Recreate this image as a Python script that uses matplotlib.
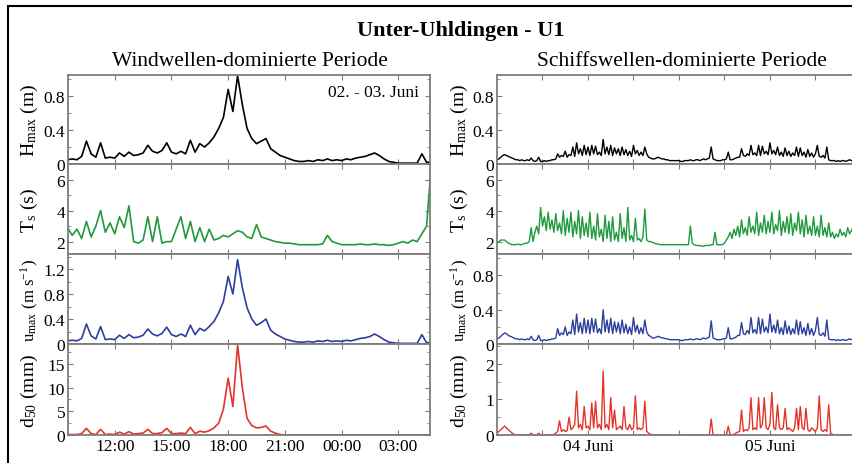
import matplotlib
matplotlib.use("Agg")
import numpy as np
import matplotlib.pyplot as plt
from matplotlib.patches import Rectangle
from matplotlib.ticker import MultipleLocator

plt.rcParams['font.family'] = ['Liberation Serif', 'DejaVu Serif']
plt.rcParams['mathtext.fontset'] = 'stix'

# --- left: wind-wave period, hours since 02 Juni 00:00, 15 min steps from 09:30
left_start = 9.5
left_H = [0.05, 0.06, 0.05, 0.09, 0.27, 0.12, 0.08, 0.25, 0.07, 0.08,
          0.07, 0.13, 0.09, 0.14, 0.10, 0.11, 0.13, 0.22, 0.15, 0.13,
          0.16, 0.25, 0.14, 0.12, 0.15, 0.12, 0.28, 0.14, 0.24, 0.20,
          0.25, 0.32, 0.42, 0.55, 0.88, 0.62, 1.04, 0.70, 0.42, 0.30,
          0.24, 0.27, 0.30, 0.18, 0.14, 0.10, 0.08, 0.06, 0.04, 0.03,
          0.03, 0.04, 0.03, 0.05, 0.04, 0.06, 0.04, 0.05, 0.04, 0.06,
          0.05, 0.07, 0.08, 0.09, 0.11, 0.13, 0.10, 0.06, 0.03, 0.02,
          0.01, 0.01, 0.01, 0.01, 0.01, 0.12, 0.02, 0.02]
left_T = [2.9, 2.4, 2.8, 2.2, 3.3, 2.3, 3.0, 4.0, 2.6, 3.2,
          2.5, 3.6, 2.9, 4.3, 2.0, 1.9, 2.1, 3.6, 2.0, 3.6,
          1.9, 2.0, 2.0, 2.8, 3.6, 2.2, 3.3, 2.0, 2.9, 2.0,
          2.8, 2.1, 2.2, 2.4, 2.3, 2.5, 2.7, 2.6, 2.3, 2.2,
          3.1, 2.3, 2.2, 2.1, 2.0, 1.95, 1.9, 1.9, 1.85, 1.8,
          1.8, 1.8, 1.8, 1.8, 1.85, 2.4, 2.0, 1.9, 1.8, 1.8,
          1.8, 1.8, 1.85, 1.8, 1.8, 1.85, 1.8, 1.8, 1.75, 1.8,
          1.9, 2.0, 1.9, 2.1, 2.0, 2.5, 3.0, 7.0]
left_u = [0.05, 0.06, 0.05, 0.09, 0.32, 0.13, 0.08, 0.28, 0.07, 0.08,
          0.07, 0.14, 0.09, 0.15, 0.10, 0.11, 0.14, 0.24, 0.16, 0.13,
          0.17, 0.27, 0.15, 0.12, 0.16, 0.12, 0.30, 0.15, 0.25, 0.21,
          0.28, 0.36, 0.50, 0.68, 1.08, 0.80, 1.35, 0.90, 0.58, 0.40,
          0.30, 0.34, 0.40, 0.22, 0.16, 0.12, 0.08, 0.06, 0.04, 0.03,
          0.03, 0.04, 0.03, 0.05, 0.04, 0.06, 0.04, 0.05, 0.04, 0.06,
          0.05, 0.07, 0.09, 0.10, 0.12, 0.16, 0.12, 0.07, 0.03, 0.02,
          0.01, 0.01, 0.01, 0.01, 0.01, 0.15, 0.02, 0.02]
left_d = [0.1, 0.1, 0.1, 0.3, 1.4, 0.3, 0.1, 1.2, 0.1, 0.2,
          0.1, 0.6, 0.2, 0.7, 0.2, 0.3, 0.4, 1.2, 0.3, 0.3,
          0.5, 1.4, 0.3, 0.3, 0.4, 0.3, 1.6, 0.3, 0.8, 0.6,
          0.9, 1.5, 2.5, 5.5, 12.0, 6.0, 19.0, 10.0, 3.5, 2.0,
          1.5, 1.6, 1.9, 0.8, 0.4, 0.1, 0.0, 0.0, 0.0, 0.0,
          0.0, 0.0, 0.0, 0.0, 0.0, 0.0, 0.0, 0.0, 0.0, 0.0,
          0.0, 0.0, 0.0, 0.0, 0.0, 0.0, 0.0, 0.0, 0.0, 0.0,
          0.0, 0.0, 0.0, 0.0, 0.0, 0.0, 0.0, 0.0]

# --- right: ship-wave period, hours since 03 Juni 00:00, 15 min steps from 12:00
right_start = 12.0
right_H = [0.05, 0.06, 0.08, 0.10, 0.11, 0.10, 0.09, 0.08, 0.07, 0.06, 0.05, 0.05,
           0.04, 0.05, 0.04, 0.04, 0.05, 0.04, 0.07, 0.04, 0.03, 0.04, 0.08, 0.03,
           0.03, 0.04, 0.03, 0.04, 0.04, 0.05, 0.05, 0.06, 0.12, 0.08, 0.10, 0.09,
           0.15, 0.08, 0.11, 0.10, 0.20, 0.09, 0.25, 0.12, 0.18, 0.10, 0.22, 0.11,
           0.20, 0.10, 0.22, 0.12, 0.21, 0.11, 0.14, 0.10, 0.29, 0.12, 0.20, 0.11,
           0.22, 0.10, 0.19, 0.12, 0.18, 0.10, 0.20, 0.11, 0.17, 0.10, 0.15, 0.09,
           0.22, 0.12, 0.16, 0.10, 0.14, 0.10, 0.20, 0.12, 0.08, 0.07, 0.06, 0.06,
           0.07, 0.08, 0.07, 0.06, 0.06, 0.05, 0.05, 0.04, 0.04, 0.04, 0.04, 0.04,
           0.04, 0.03, 0.03, 0.04, 0.04, 0.04, 0.05, 0.04, 0.04, 0.05, 0.05, 0.04,
           0.05, 0.06, 0.05, 0.06, 0.07, 0.20, 0.06, 0.05, 0.04, 0.04, 0.04, 0.05,
           0.05, 0.06, 0.14, 0.05, 0.05, 0.06, 0.07, 0.08, 0.08, 0.18, 0.10, 0.09,
           0.12, 0.10, 0.22, 0.11, 0.13, 0.10, 0.22, 0.10, 0.21, 0.12, 0.15, 0.11,
           0.25, 0.12, 0.16, 0.11, 0.20, 0.10, 0.14, 0.09, 0.19, 0.10, 0.15, 0.09,
           0.13, 0.10, 0.20, 0.09, 0.19, 0.10, 0.14, 0.08, 0.17, 0.09, 0.13, 0.08,
           0.12, 0.22, 0.09, 0.08, 0.10, 0.07, 0.20, 0.05, 0.04, 0.04, 0.04, 0.03,
           0.04, 0.03, 0.04, 0.04, 0.03, 0.04, 0.05, 0.04, 0.04]
right_T = [1.9, 2.0, 2.1, 2.1, 2.1, 2.0, 1.9, 1.85, 1.8, 1.8, 1.8, 1.85,
           1.8, 1.8, 1.85, 1.9, 1.9, 2.0, 2.9, 2.0, 2.6, 3.0, 2.5, 4.2,
           3.0, 3.6, 2.7, 3.9, 2.8, 3.4, 2.6, 3.8, 2.7, 3.2, 2.5, 4.0,
           2.4, 3.5, 2.6, 3.9, 2.3, 3.3, 2.5, 4.0, 2.2, 3.6, 2.4, 3.2,
           2.3, 3.9, 2.2, 3.0, 2.1, 3.8, 2.3, 2.8, 2.0, 3.7, 2.2, 3.3,
           2.0, 3.6, 2.1, 2.6, 2.0, 3.8, 2.2, 2.9, 2.0, 4.2, 2.1, 2.4,
           2.0, 3.5, 2.1, 2.2, 2.0, 2.3, 4.1, 2.1, 2.0, 2.0, 1.95, 1.9,
           1.85, 1.85, 1.8, 1.8, 1.8, 1.8, 1.8, 1.8, 1.8, 1.8, 1.8, 1.8,
           1.8, 1.8, 1.8, 1.8, 1.8, 1.8, 3.0, 1.9, 1.8, 1.75, 1.75, 1.75,
           1.7, 1.7, 1.75, 1.75, 1.75, 1.8, 1.8, 2.6, 1.8, 1.8, 1.8, 1.8,
           1.9, 2.1, 2.3, 2.6, 2.2, 2.8, 2.4, 3.0, 2.3, 3.4, 2.5, 2.9,
           2.4, 3.6, 2.6, 3.0, 2.5, 3.9, 2.4, 3.2, 2.6, 3.7, 2.5, 3.3,
           2.6, 3.9, 2.5, 3.1, 2.7, 4.0, 2.4, 3.3, 2.6, 3.6, 2.5, 3.8,
           2.4, 3.2, 2.7, 3.9, 2.5, 3.4, 2.3, 3.7, 2.5, 3.0, 2.4, 3.6,
           2.4, 3.0, 2.3, 3.7, 2.4, 2.9, 2.3, 3.2, 2.3, 2.6, 2.2, 2.5,
           2.3, 2.8, 2.4, 2.6, 2.3, 2.9, 2.5, 2.7, 3.0]
right_u = [0.06, 0.07, 0.09, 0.11, 0.13, 0.12, 0.10, 0.09, 0.08, 0.07, 0.06, 0.06,
           0.05, 0.06, 0.05, 0.05, 0.06, 0.05, 0.09, 0.05, 0.04, 0.05, 0.10, 0.04,
           0.04, 0.05, 0.04, 0.05, 0.05, 0.06, 0.06, 0.07, 0.18, 0.10, 0.13, 0.11,
           0.20, 0.10, 0.14, 0.12, 0.28, 0.11, 0.35, 0.14, 0.25, 0.12, 0.30, 0.13,
           0.28, 0.12, 0.30, 0.14, 0.29, 0.13, 0.18, 0.12, 0.40, 0.14, 0.28, 0.13,
           0.30, 0.12, 0.26, 0.14, 0.25, 0.12, 0.28, 0.13, 0.23, 0.12, 0.20, 0.11,
           0.31, 0.14, 0.22, 0.12, 0.19, 0.12, 0.28, 0.14, 0.10, 0.09, 0.07, 0.07,
           0.08, 0.09, 0.08, 0.07, 0.07, 0.06, 0.06, 0.05, 0.05, 0.05, 0.05, 0.05,
           0.05, 0.04, 0.04, 0.05, 0.05, 0.05, 0.06, 0.05, 0.05, 0.06, 0.06, 0.05,
           0.06, 0.07, 0.06, 0.07, 0.08, 0.27, 0.07, 0.06, 0.05, 0.05, 0.05, 0.06,
           0.06, 0.07, 0.19, 0.06, 0.06, 0.07, 0.08, 0.10, 0.10, 0.25, 0.12, 0.11,
           0.16, 0.12, 0.31, 0.13, 0.17, 0.12, 0.31, 0.12, 0.29, 0.14, 0.20, 0.13,
           0.35, 0.14, 0.22, 0.13, 0.28, 0.12, 0.19, 0.11, 0.27, 0.12, 0.21, 0.11,
           0.18, 0.12, 0.28, 0.11, 0.26, 0.12, 0.19, 0.10, 0.24, 0.11, 0.18, 0.10,
           0.16, 0.31, 0.11, 0.10, 0.13, 0.09, 0.28, 0.06, 0.05, 0.05, 0.05, 0.04,
           0.05, 0.04, 0.05, 0.05, 0.04, 0.05, 0.06, 0.05, 0.05]
right_d = [0.05, 0.1, 0.15, 0.2, 0.25, 0.2, 0.15, 0.1, 0.05, 0.02, 0.0, 0.0,
           0.0, 0.0, 0.0, 0.0, 0.0, 0.0, 0.05, 0.0, 0.0, 0.0, 0.05, 0.0,
           0.0, 0.0, 0.0, 0.0, 0.0, 0.0, 0.02, 0.05, 0.1, 0.4, 0.1, 0.15,
           0.1, 0.12, 0.5, 0.15, 0.2, 0.3, 1.23, 0.2, 0.3, 0.15, 0.8, 0.2,
           0.25, 0.15, 0.9, 0.2, 0.95, 0.2, 0.3, 0.15, 1.8, 0.2, 0.3, 0.15,
           1.05, 0.2, 0.7, 0.15, 0.2, 0.25, 0.15, 0.8, 0.2, 0.15, 0.3, 0.15,
           0.2, 1.1, 0.15, 0.2, 0.15, 0.2, 0.95, 0.1, 0.05, 0.02, 0.0, 0.0,
           0.0, 0.0, 0.0, 0.0, 0.0, 0.0, 0.0, 0.0, 0.0, 0.0, 0.0, 0.0,
           0.0, 0.0, 0.0, 0.0, 0.0, 0.0, 0.0, 0.0, 0.0, 0.0, 0.0, 0.0,
           0.0, 0.0, 0.0, 0.0, 0.0, 0.45, 0.0, 0.0, 0.0, 0.0, 0.0, 0.0,
           0.0, 0.0, 0.25, 0.0, 0.0, 0.02, 0.05, 0.08, 0.1, 0.7, 0.1, 0.15,
           0.12, 0.2, 1.05, 0.15, 0.2, 0.15, 1.05, 0.2, 0.3, 1.05, 0.2, 0.15,
           0.3, 1.2, 0.2, 0.15, 0.85, 0.2, 0.15, 0.2, 0.75, 0.15, 0.2, 0.15,
           0.1, 0.2, 0.75, 0.15, 0.8, 0.2, 0.15, 0.75, 0.15, 0.1, 0.2, 0.15,
           0.1, 0.2, 1.1, 0.15, 0.1, 0.15, 0.1, 0.85, 0.05, 0.02, 0.0, 0.0,
           0.0, 0.0, 0.0, 0.0, 0.0, 0.0, 0.0, 0.0, 0.0]

left_ticks = [12, 15, 18, 21, 24, 27]
left_ticklabels = ["12:00", "15:00", "18:00", "21:00", "00:00", "03:00"]
right_ticks = [18, 24, 30, 36, 42, 48, 54]
right_ticklabels = ["", "04 Juni", "", "", "", "05 Juni", ""]

ylabels = [r"H$_\mathregular{max}$ (m)", r"T$_\mathregular{s}$ (s)",
           r"u$_\mathregular{max}$ (m s$^\mathregular{-1}$)", r"d$_\mathregular{50}$ (mm)"]
ylabel_sizes = [14, 14, 12, 14]
colors = ["black", "#1f9a3c", "#2d3f9c", "#e3342a"]

# limits, major ticks, minor step
left_y = [((0, 1.05), [0, 0.4, 0.8], 0.2),
          ((1.2, 7.0), [2, 4, 6], 1.0),
          ((0, 1.44), [0, 0.4, 0.8, 1.2], 0.2),
          ((0, 19.2), [0, 5, 10, 15], 2.5)]
right_y = [((0, 1.05), [0, 0.4, 0.8], 0.2),
           ((1.2, 7.0), [2, 4, 6], 1.0),
           ((0, 1.05), [0, 0.4, 0.8], 0.2),
           ((0, 2.56), [0, 1, 2], 0.5)]

W, H = 853, 464
fig = plt.figure(figsize=(W / 100, H / 100), dpi=100)

rows = [(76, 165), (165, 255), (255, 345), (345, 436)]


def pbox(x0, x1, y0, y1):
    return [x0 / W, 1 - y1 / H, (x1 - x0) / W, (y1 - y0) / H]


left_series = [left_H, left_T, left_u, left_d]
right_series = [right_H, right_T, right_u, right_d]
lt = left_start + 0.25 * np.arange(len(left_H))
rt = right_start + 0.25 * np.arange(len(right_H))

gray = "#7c7c7c"
for side in range(2):
    for r, (y0, y1) in enumerate(rows):
        if side == 0:
            ax = fig.add_axes(pbox(68, 430, y0, y1))
            ax.plot(lt, left_series[r], color=colors[r], lw=1.2)
            ax.set_xlim(9.526, 28.68)
            ax.set_xticks(left_ticks)
            lims, yt, mn = left_y[r]
            labx = (40 - 68) / 362
        else:
            ax = fig.add_axes(pbox(497, 867, y0, y1))
            ax.plot(rt, right_series[r], color=colors[r], lw=1.0)
            ax.set_xlim(12.0, 60.8)
            ax.set_xticks(right_ticks)
            lims, yt, mn = right_y[r]
            labx = (470 - 497) / 370
        ax.set_ylim(*lims)
        ax.set_yticks(yt)
        ax.set_yticklabels([("%g" % v) for v in yt])
        ax.yaxis.set_minor_locator(MultipleLocator(mn))
        if r == 3:
            ax.set_xticklabels(left_ticklabels if side == 0 else right_ticklabels)
        else:
            ax.set_xticklabels([])
        ax.tick_params(which="both", direction="in", top=True, right=True,
                       color=gray, labelsize=12.5, pad=2)
        ax.tick_params(which="major", length=3.5)
        ax.tick_params(which="minor", length=2)
        for s in ax.spines.values():
            s.set_color(gray)
            s.set_linewidth(1.3)
        ax.set_ylabel(ylabels[r], fontsize=ylabel_sizes[r], labelpad=0)
        ax.yaxis.set_label_coords(labx, 0.5)
        if side == 0 and r == 0:
            ax.text(0.97, 0.81, "02. - 03. Juni", transform=ax.transAxes,
                    ha="right", va="center", fontsize=12.5)

fig.text(461 / W, 1 - 31 / H, "Unter-Uhldingen - U1", ha="center", va="center",
         fontsize=16, fontweight="bold")
fig.text(250 / W, 1 - 61 / H, "Windwellen-dominierte Periode", ha="center",
         va="center", fontsize=15.5)
fig.text(682 / W, 1 - 61 / H, "Schiffswellen-dominierte Periode", ha="center",
         va="center", fontsize=15.5)

fig.add_artist(Rectangle((8 / W, -0.1), 1.2, 1.1 - 7 / H, transform=fig.transFigure,
                         fill=False, edgecolor="black", lw=1.5))

fig.savefig("out.png", dpi=100)
